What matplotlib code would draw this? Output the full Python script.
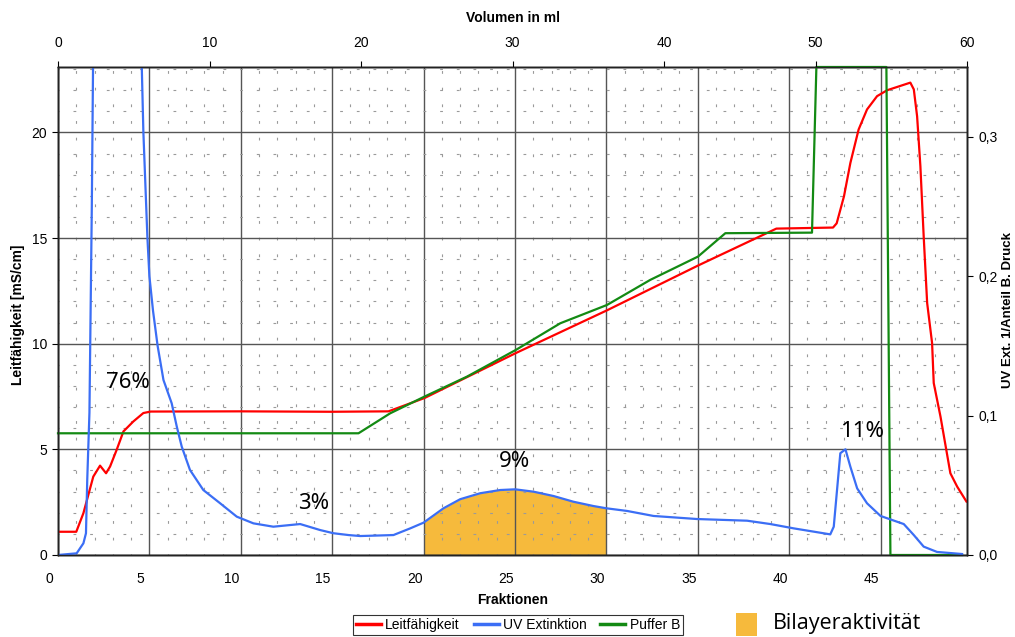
import numpy as np
import matplotlib
matplotlib.use("Agg")
from matplotlib import pyplot as plt
import matplotlib.ticker as ticker
import matplotlib.transforms as mtrans
from matplotlib.patches import Rectangle

# %% --------------- DATA                 ----------------------------------------------------------------------------- #
red_x = [0, 1.0, 1.39, 1.93, 2.3, 2.63, 2.85, 3.21, 3.58, 4.12, 4.67, 5.07, 10, 15, 18.08, 20.05, 25.05, 30.03,
         35.01, 37.9, 39.3, 42.4, 42.6, 43.0, 43.35, 43.8, 44.26, 44.81, 45.36, 46.63, 46.82, 47.0, 47.18, 47.36,
         47.55, 47.82, 47.91, 48.28, 48.82, 49.19, 49.7]
red_y = [1.1, 1.1, 1.98, 3.71, 4.23, 3.87, 4.19, 4.98, 5.85, 6.32, 6.72, 6.79, 6.8, 6.78, 6.8, 7.43, 9.56, 11.58,
         13.70, 14.88, 15.45, 15.5, 15.7, 16.98, 18.56, 20.14, 21.09, 21.72, 22.0, 22.36, 22.04, 20.77, 18.4, 15.09,
         11.93, 10.03, 8.14, 6.55, 3.87, 3.24, 2.53]

blue_x = [0, 1.02, 1.39, 1.53, 1.6, 1.72, 1.85, 1.95, 4.49, 4.67, 4.89, 5.0, 5.2, 5.45, 5.77, 6.22, 6.5, 6.77,
          7.22, 7.95, 8.87, 9.78, 10.69, 11.78, 13.25, 14.34, 15.07, 15.9, 16.53, 18.35, 19.27, 20.0, 21.09, 22.0,
          23.1, 24.19, 25.01, 26.02, 27.11, 28.2, 29.3, 30.0, 31.13, 32.58, 34.96, 37.7, 38.97, 40.25, 42.25,
          42.44, 42.8, 43.08, 43.35, 43.72, 44.26, 45.0, 46.27, 46.82, 47.36, 48.09, 49.46]
blue_y = [0, 0.0012, 0.0084, 0.0156, 0.054, 0.102, 0.25, 0.40, 0.40, 0.3036, 0.228, 0.20, 0.175, 0.15, 0.1255,
          0.1088, 0.092, 0.0777, 0.061, 0.0466, 0.0371, 0.0275, 0.0227, 0.0203, 0.0222, 0.0179, 0.0156, 0.0143,
          0.0136, 0.0143, 0.0191, 0.0232, 0.0335, 0.04, 0.0443, 0.0466, 0.0471, 0.0454, 0.0423, 0.0382, 0.0351,
          0.0335, 0.0316, 0.028, 0.0258, 0.0246, 0.0222, 0.0191, 0.0148, 0.0203, 0.073, 0.0758, 0.0633, 0.0478,
          0.0371, 0.028, 0.0222, 0.0143, 0.006, 0.0022, 0.0007]

green_x = [0, 16.44, 18.17, 20.05, 22.37, 25.05, 27.48, 30.03, 32.4, 35.01, 36.51, 41.25, 41.49, 45.32, 45.54, 49.46]
green_y = [0.0873, 0.0873, 0.1016, 0.1136, 0.1279, 0.1471, 0.1662, 0.1793, 0.1973, 0.214, 0.2308, 0.2312, 0.35,
           0.35, 0, 0]

bilayer_range = (20, 30)

labels = [("76%", 3.83, 8.15), ("3%", 13.96, 2.46), ("9%", 25.0, 4.41), ("11%", 44.0, 5.83)]

frac_ticks = [0, 5, 10, 15, 20, 25, 30, 35, 40, 45]
vol_ticks = [0, 10, 20, 30, 40, 50, 60]
left_ticks = [0, 5, 10, 15, 20]
right_ticks = [0.0, 0.1, 0.2, 0.3]

RED = "#ff0000"
BLUE = "#3b6ef5"
GREEN = "#138a13"
ORANGE = "#f6ba3c"

plt.rcParams["font.family"] = ["Liberation Sans", "DejaVu Sans"]

# %% --------------- FIGURE                                        ---------------------------------------------------- #
fig = plt.figure(figsize=(10.15, 6.37), dpi=100)
ax = fig.add_axes([58 / 1015, 82 / 637, 909 / 1015, 488 / 637])
ax2 = ax.twinx()
ax3 = ax.twiny()

ax.set_xlim(0, 49.73)
ax.set_ylim(0, 23.1)
ax2.set_ylim(0, 0.35)
ax3.set_xlim(0, 60)

# grid
ax.set_xticks(frac_ticks)
ax.set_yticks(left_ticks)
ax.xaxis.set_minor_locator(ticker.MultipleLocator(1))
ax.yaxis.set_minor_locator(ticker.MultipleLocator(1))
ax.grid(which="major", color="#555555", lw=1.0)
ax.grid(which="minor", color="#9a9a9a", lw=0.8, linestyle=(1.5, (2.5, 12.5)))

# curves
bx = np.array(blue_x)
by = np.array(blue_y)
mask = (bx >= bilayer_range[0]) & (bx <= bilayer_range[1])
ax.fill_between(bx[mask], 0, by[mask], color=ORANGE, lw=0, zorder=0.2, transform=ax2.transData)

ax.plot(red_x, red_y, color=RED, lw=1.6, zorder=3)
ax2.plot(green_x, green_y, color=GREEN, lw=1.6, clip_on=False, zorder=3)
ax2.plot(blue_x, blue_y, color=BLUE, lw=1.6, zorder=4)

for txt, fx, fy in labels:
    ax.text(fx, fy, txt, fontsize=16, ha="center", va="center", family="Noto Sans", zorder=5)

# ticks
ax.tick_params(axis="y", direction="out", length=4, pad=4, labelsize=10)
ax.tick_params(axis="x", length=0, pad=12, labelsize=10)
ax.tick_params(which="minor", length=0)
shift = mtrans.ScaledTranslation(-9 / 100, 0, fig.dpi_scale_trans)
for lab in ax.get_xticklabels():
    lab.set_transform(lab.get_transform() + shift)

ax2.set_yticks(right_ticks)
ax2.yaxis.set_major_formatter(ticker.FuncFormatter(lambda v, p: f"{v:.1f}".replace(".", ",")))
ax2.tick_params(axis="y", direction="out", length=4, pad=4, labelsize=10)

ax3.set_xticks(vol_ticks)
ax3.tick_params(axis="x", direction="out", length=4, pad=8, labelsize=10)

for a in (ax, ax2, ax3):
    for s in a.spines.values():
        s.set_color("#222222")
        s.set_linewidth(1.0)

# labels
fig.text(18 / 1015, 1 - 315 / 637, "Leitfähigkeit [mS/cm]", rotation=90, ha="center", va="center",
         fontsize=10, fontweight="bold")
fig.text(1008 / 1015, 1 - 310 / 637, "UV Ext. 1/Anteil B. Druck", rotation=90, ha="center", va="center",
         fontsize=9.5, fontweight="bold")
fig.text(513 / 1015, 1 - 18 / 637, "Volumen in ml", ha="center", va="center", fontsize=10, fontweight="bold")
fig.text(513 / 1015, 1 - 600 / 637, "Fraktionen", ha="center", va="center", fontsize=10, fontweight="bold")

# legend
handles = [ax.lines[0], ax2.lines[1], ax2.lines[0]]
leg = fig.legend(handles, ["Leitfähigkeit", "UV Extinktion", "Puffer B"], ncol=3, loc="center",
                 bbox_to_anchor=(518 / 1015, 1 - 625 / 637), fontsize=10, frameon=True, fancybox=False,
                 edgecolor="black", handlelength=1.8, handletextpad=0.3, columnspacing=1.0,
                 borderpad=0.2, borderaxespad=0)
leg.get_frame().set_linewidth(0.8)
for h in leg.legend_handles:
    h.set_linewidth(2.5)

fig.patches.append(Rectangle((736 / 1015, 1 - 636 / 637), 21 / 1015, 23 / 637, transform=fig.transFigure,
                             facecolor=ORANGE, edgecolor="none"))
fig.text(773 / 1015, 1 - 624 / 637, "Bilayeraktivität", ha="left", va="center", fontsize=15.5, family="Open Sans")

fig.savefig("out.png", dpi=100)
